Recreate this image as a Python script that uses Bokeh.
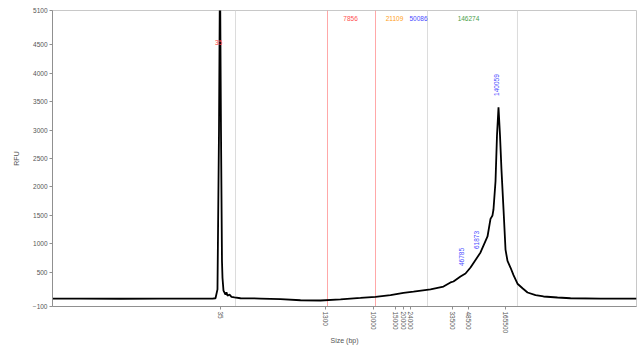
from bokeh.plotting import figure
from bokeh.models import FixedTicker, CustomJSTickFormatter, Range1d
from bokeh.core.properties import value
from bokeh.embed import file_html
from bokeh.resources import INLINE
import math

# Migration position (arbitrary units) and RFU of the electropherogram trace
trace_pos = [0, 4.79, 11.64, 18.49, 25.34, 27.40, 27.91, 28.25, 28.51, 28.68, 28.85, 29.02,
             29.11, 29.28, 29.62, 29.79, 29.97, 30.31, 30.65, 31.16, 32.19, 35.62, 39.04,
             42.47, 45.89, 49.32, 52.74, 55.31, 57.88, 60.10, 61.82, 64.73, 66.95, 68.15,
             68.66, 69.86, 70.72, 71.58, 73.29, 74.49, 75.00, 75.34, 75.51, 75.86, 76.11,
             76.37, 76.63, 76.88, 77.23, 77.57, 77.91, 78.42, 78.94, 79.62, 80.48, 81.34,
             82.71, 84.08, 86.47, 88.70, 93.84, 100]
trace_rfu = [38, 40, 36, 40, 38, 40, 45, 200, 3000, 5900, 3000, 700,
             400, 180, 110, 150, 90, 110, 70, 60, 45, 40, 30,
             10, 5, 25, 50, 70, 100, 140, 160, 200, 250, 322,
             339, 427, 480, 585, 849, 1130, 1440, 1500, 1604, 2100, 2900,
             3400, 2900, 2300, 1604, 900, 700, 585, 450, 300, 220, 146,
             100, 76, 58, 45, 40, 38]

# Ladder sizes (bp) and their migration positions
ladder_pos = [28.77, 46.75, 54.97, 58.73, 60.10, 61.30, 68.49, 71.23, 77.57]
ladder_bp = ["35", "1300", "10000", "15000", "20000", "24000", "33500", "48500", "165500"]

# Region boundary lines
gray_lines = [31.34, 64.21, 79.62]
red_lines = [47.09, 55.31]

# Region labels at the top
region_pos = [51.03, 58.56, 62.67, 71.23]
region_text = ["7856", "21109", "50086", "146274"]
region_color = ["#ff5050", "#ffa020", "#4a4aff", "#4aa04a"]

# Peak labels
peak_pos = [75.95, 70.05, 72.55]
peak_rfu = [3600, 610, 910]
peak_text = ["140059", "46785", "61873"]
marker_pos = [28.45]
marker_rfu = [4540]
marker_text = ["35"]

y_ticks = [-100, 500, 1000, 1500, 2000, 2500, 3000, 3500, 4000, 4500, 5100]

FONT = "Liberation Sans"

p = figure(width=638, height=347, output_backend="svg", toolbar_location=None,
           x_range=Range1d(0, 100), y_range=Range1d(-100, 5100),
           min_border_left=52, min_border_right=2, min_border_top=10, min_border_bottom=41)
p.grid.visible = False
p.outline_line_color = "#c8c8c8"
p.background_fill_color = "white"
p.border_fill_color = "white"

p.segment(x0=gray_lines, y0=[-100] * len(gray_lines), x1=gray_lines, y1=[5100] * len(gray_lines),
          line_color="#dcdcdc", line_width=1)
p.segment(x0=red_lines, y0=[-100] * len(red_lines), x1=red_lines, y1=[5100] * len(red_lines),
          line_color="#ff6060", line_alpha=0.55, line_width=1)

p.line(trace_pos, trace_rfu, line_color="black", line_width=1.8)

p.text(x=region_pos, y=[4960] * len(region_pos), text=region_text, text_color=region_color,
       text_font=value(FONT), text_font_size="6.5px", text_align="center", text_baseline="middle")
p.text(x=peak_pos, y=peak_rfu, text=peak_text, text_color="#4a4aff", angle=math.pi / 2,
       text_font=value(FONT), text_font_size="6.5px", text_align="left", text_baseline="middle")
p.text(x=marker_pos, y=marker_rfu, text=marker_text, text_color="#ff4040",
       text_font=value(FONT), text_font_size="6.5px", text_align="center", text_baseline="middle")

xa = p.xaxis[0]
xa.ticker = FixedTicker(ticks=ladder_pos)
xa.formatter = CustomJSTickFormatter(args=dict(pos=ladder_pos, lab=ladder_bp), code="""
    let best = 0, d = 1e9;
    for (let i = 0; i < pos.length; i++) {
        const dd = Math.abs(pos[i] - tick);
        if (dd < d) { d = dd; best = i; }
    }
    return lab[best];
""")
xa.major_label_orientation = "vertical"
xa.axis_label = "Size (bp)"

ya = p.yaxis[0]
ya.ticker = FixedTicker(ticks=y_ticks)
ya.axis_label = "RFU"

for ax in (xa, ya):
    ax.minor_tick_line_color = None
    ax.major_tick_out = 3
    ax.major_tick_in = 0
    ax.major_label_standoff = 2
    ax.axis_label_standoff = 3
    ax.major_label_text_font = FONT
    ax.major_label_text_font_size = "6.5px"
    ax.major_label_text_color = "#555555"
    ax.axis_label_text_font = FONT
    ax.axis_label_text_font_size = "7px"
    ax.axis_label_text_font_style = "normal"
    ax.axis_label_text_color = "#555555"
    ax.axis_line_color = "#909090"
    ax.major_tick_line_color = "#909090"
xa.axis_label_standoff = 1
ya.axis_label_standoff = 10

open("out.html", "w").write(file_html(p, INLINE))
